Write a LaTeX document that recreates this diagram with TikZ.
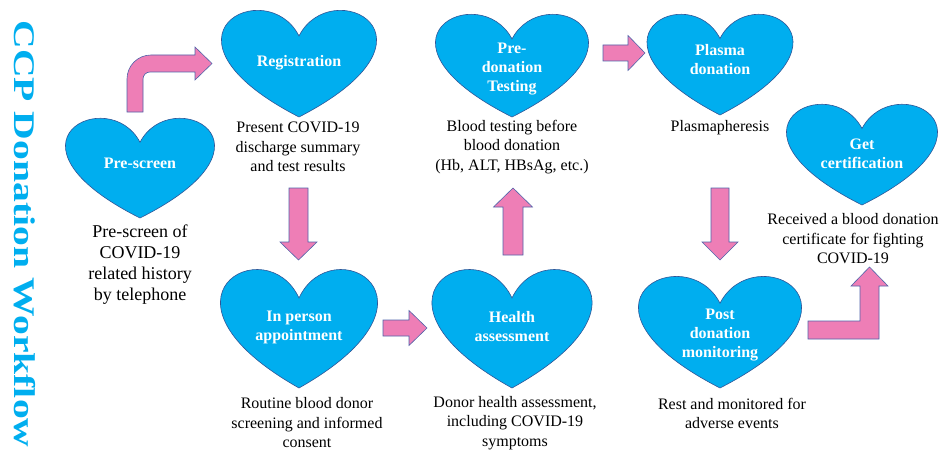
\documentclass[tikz,border=0pt]{standalone}
\usepackage{fontspec}
\setmainfont{Liberation Serif}
\definecolor{heartblue}{RGB}{0,174,239}
\definecolor{heartline}{RGB}{47,85,151}
\definecolor{arrowpink}{RGB}{238,126,182}
\definecolor{arrowline}{RGB}{80,100,170}
\definecolor{titleblue}{RGB}{0,174,239}
\newcommand\hrt[4]{% cx, top, w, h
  \draw[heartshape] (#1,#2+#4/4) .. controls (#1+#3*10/48,#2-#4/3) and (#1+#3*49/48,#2+#4/4) .. (#1,#2+#4)
    .. controls (#1-#3*49/48,#2+#4/4) and (#1-#3*10/48,#2-#4/3) .. cycle;}
\newcommand\vblock[6]{% cx, ystart, ytip, shafthalf, headhalf, headlen (vertical, tip at ytip)
  \draw[blockarrow] (#1-#4,#2) -- (#1+#4,#2) -- (#1+#4,#3-#6) -- (#1+#5,#3-#6) -- (#1,#3)
    -- (#1-#5,#3-#6) -- (#1-#4,#3-#6) -- cycle;}
\newcommand\hblock[6]{% cy, xstart, xtip, shafthalf, headhalf, headlen (horizontal)
  \draw[blockarrow] (#2,#1-#4) -- (#3-#6,#1-#4) -- (#3-#6,#1-#5) -- (#3,#1) -- (#3-#6,#1+#5)
    -- (#3-#6,#1+#4) -- (#2,#1+#4) -- cycle;}
\begin{document}
\begin{tikzpicture}[x=1pt,y=-1pt,
  heartshape/.style={fill=heartblue,draw=heartline,line width=0.6pt},
  blockarrow/.style={fill=arrowpink,draw=arrowline,line width=0.6pt,line join=miter},
  hlabel/.style={text=white,font=\fontsize{16}{19}\selectfont\bfseries,align=center,inner sep=0pt},
  desc/.style={text=black,font=\fontsize{16}{19.5}\selectfont,align=center,inner sep=0pt}]
\useasboundingbox (0,0) rectangle (940,452);

% title
\node[text=titleblue,font=\fontsize{30}{30}\selectfont\bfseries,rotate=-90,inner sep=0pt] (title) at (25,234)
  {\scalebox{1.32}[1]{CCP Donation Workflow}};

% hearts
\hrt{140}{117}{148}{101}
\hrt{299}{9}{154}{108}
\hrt{512}{13}{152}{104}
\hrt{720}{13}{145}{102}
\hrt{862}{103}{150}{102}
\hrt{299}{268}{156}{120}
\hrt{512}{268}{159}{120}
\hrt{720}{275}{162}{113}

% heart labels
\node[hlabel] (prescreen) at (140,163) {Pre-screen};
\node[hlabel] (registration) at (299,63) {Registration};
\node[hlabel] (predonation) at (512,69) {Pre-\\donation\\Testing};
\node[hlabel] (plasma) at (720,59.5) {Plasma\\donation};
\node[hlabel] (cert) at (862,154) {Get\\certification};
\node[hlabel] (inperson) at (299,327) {In person\\appointment};
\node[hlabel] (health) at (512,327) {Health\\assessment};
\node[hlabel] (post) at (720,335) {Post\\donation\\monitoring};

% descriptions
\node[desc,font=\fontsize{18}{21}\selectfont] (d1) at (140,265) {Pre-screen of\\COVID-19\\related history\\by telephone};
\node[desc] (d2) at (298,147) {Present COVID-19\\discharge summary\\and test results};
\node[desc] (d3) at (512,147) {Blood testing before\\blood donation\\(Hb, ALT, HBsAg, etc.)};
\node[desc] (d4) at (720,128) {Plasmapheresis};
\node[desc] (d5) at (853,239) {Received a blood donation\\certificate for fighting\\COVID-19};
\node[desc] (d6) at (307,423) {Routine blood donor\\screening and informed\\consent};
\node[desc] (d7) at (515,423) {Donor health assessment,\\including COVID-19\\symptoms};
\node[desc] (d8) at (732,413.5) {Rest and monitored for\\adverse events};

% bent arrow pre-screen -> registration
\draw[blockarrow] (127,112) -- (127,79) .. controls (127,65.7) and (137.7,55) .. (151,55) -- (195,55) -- (195,47)
  -- (212,63.5) -- (195,80) -- (195,72) -- (150,72) .. controls (146.1,72) and (143,75.1) .. (143,79) -- (143,112) -- cycle;
% straight arrows
\vblock{298.5}{188}{260}{9.5}{18.5}{18}
\hblock{328}{383}{427}{8}{17.5}{18}
\vblock{513}{255}{188}{10}{19.5}{-19}
\hblock{53}{603}{645}{8}{17.5}{17}
\vblock{720}{188}{260}{9}{18}{18}
% bent arrow post -> certification
\draw[blockarrow] (808,321) -- (860,321) -- (860,286) -- (851,286) -- (869.5,267) -- (888,286) -- (879,286)
  -- (879,339) -- (808,339) -- cycle;
\end{tikzpicture}
\end{document}
